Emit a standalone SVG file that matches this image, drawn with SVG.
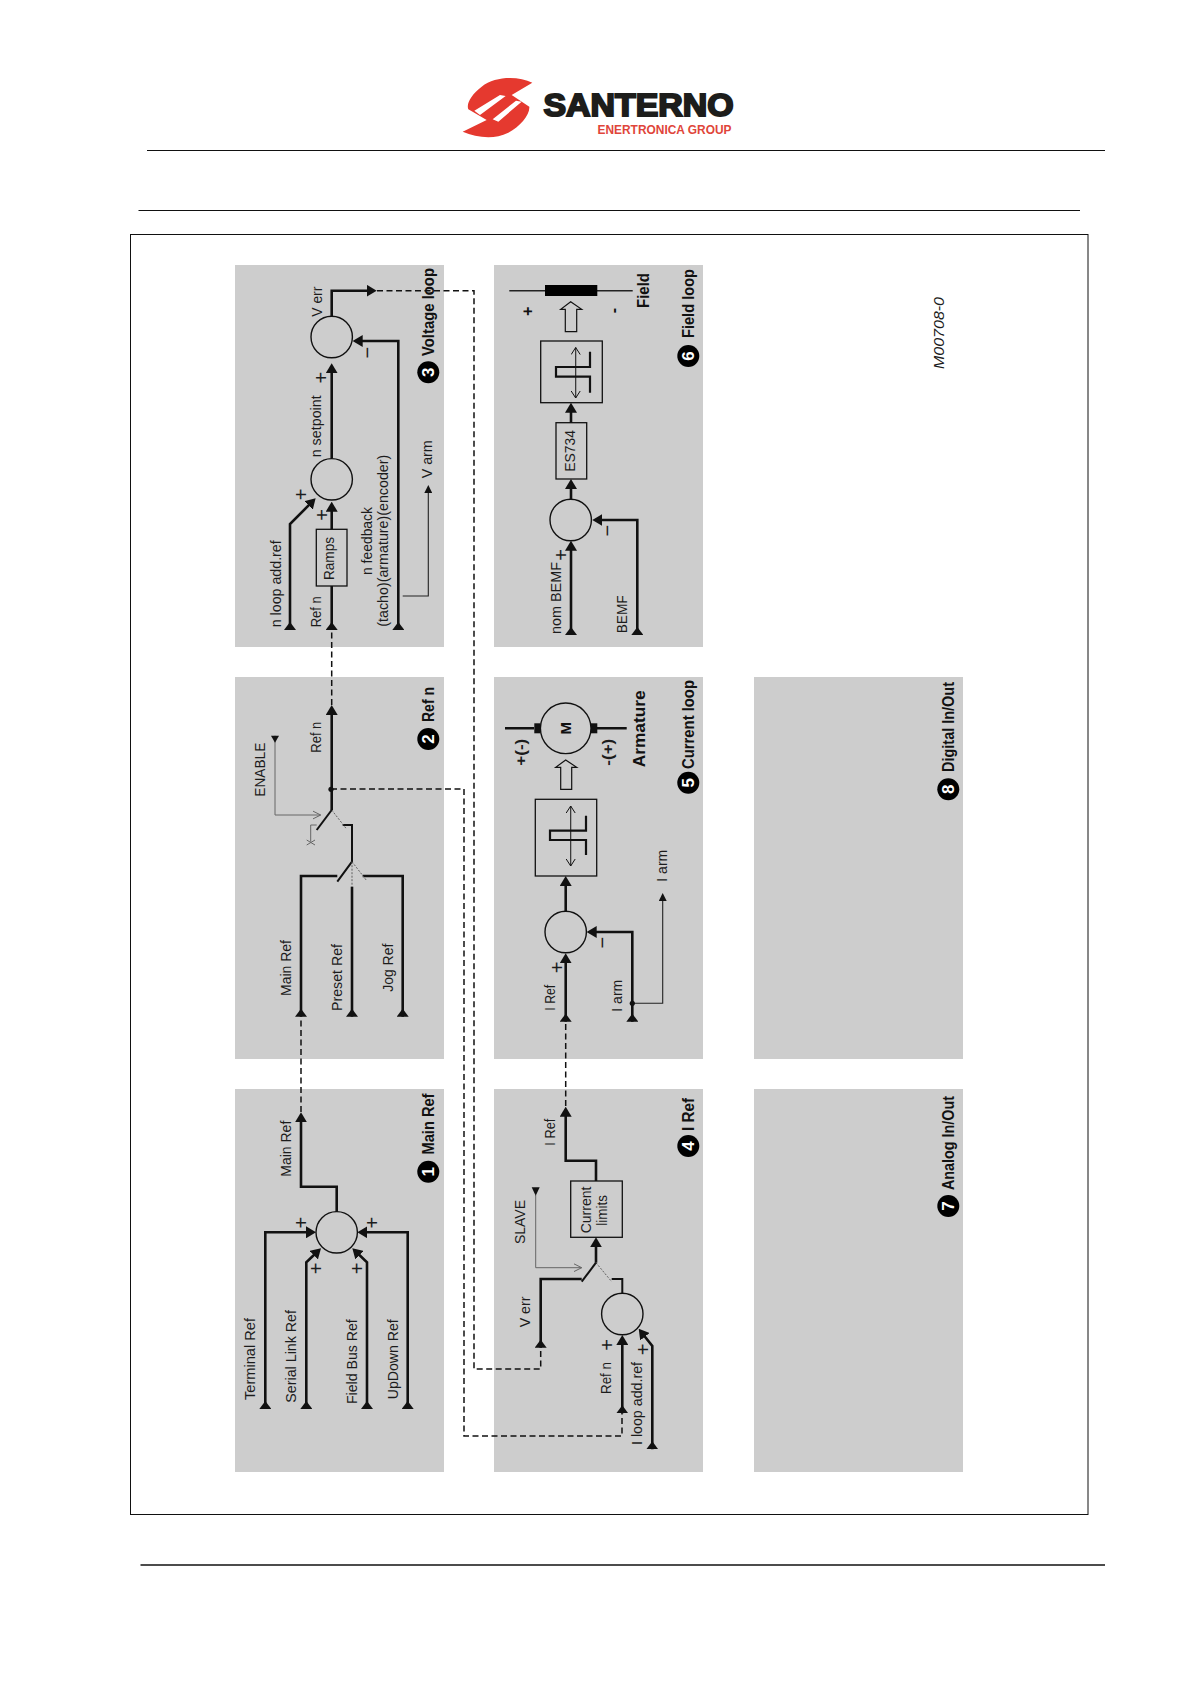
<svg xmlns="http://www.w3.org/2000/svg" width="1191" height="1684" viewBox="0 0 1191 1684">
<style>
text{font-family:"Liberation Sans",Arial,sans-serif;fill:#1c1c1c}
.l{font-size:14px}
.t{font-size:17px;font-weight:bold;fill:#111}
.n{font-size:17px;font-weight:bold;fill:#fff;text-anchor:middle}
.s{font-size:20px;text-anchor:middle}
.p{fill:#cdcdcd}
.sum{fill:none;stroke:#111;stroke-width:1.4}
.box{fill:none;stroke:#111;stroke-width:1.3}
.c{fill:none;stroke:#111;stroke-width:2.6}
.thin{fill:none;stroke:#222;stroke-width:1.1}
.gr{fill:none;stroke:#666;stroke-width:1}
.dot{fill:none;stroke:#555;stroke-width:.9;stroke-dasharray:2 1.5}
.d{fill:none;stroke:#111;stroke-width:1.5;stroke-dasharray:6 3.5}
.st{fill:none;stroke:#111;stroke-width:2.2}
.hol{fill:none;stroke:#111;stroke-width:1.2}
.rule{stroke:#111;stroke-width:1}
</style>
<defs>
<marker id="ae" viewBox="0 0 10 12" refX="6" refY="6" markerWidth="10" markerHeight="12" markerUnits="userSpaceOnUse" orient="auto"><path d="M0,0L10,6L0,12z" fill="#111"/></marker>
<marker id="as" viewBox="0 0 8 12" refX="0" refY="6" markerWidth="8" markerHeight="12" markerUnits="userSpaceOnUse" orient="auto"><path d="M0,0L8,6L0,12z" fill="#111"/></marker>
<marker id="te" viewBox="0 0 8 8" refX="5" refY="4" markerWidth="8" markerHeight="8" markerUnits="userSpaceOnUse" orient="auto"><path d="M0,0L8,4L0,8z" fill="#111"/></marker>
<marker id="to" viewBox="0 0 9 10" refX="8" refY="5" markerWidth="9" markerHeight="10" markerUnits="userSpaceOnUse" orient="auto"><path d="M0,1L8,5L0,9" fill="none" stroke="#666" stroke-width="1"/></marker>
<marker id="da" viewBox="0 0 8 10" refX="7" refY="5" markerWidth="8" markerHeight="10" markerUnits="userSpaceOnUse" orient="auto"><path d="M0,0.5L7,5L0,9.5" fill="none" stroke="#111" stroke-width="1"/></marker>
<marker id="das" viewBox="0 0 8 10" refX="1" refY="5" markerWidth="8" markerHeight="10" markerUnits="userSpaceOnUse" orient="auto"><path d="M8,0.5L1,5L8,9.5" fill="none" stroke="#111" stroke-width="1"/></marker>
</defs>

<g id="logo">
<g transform="translate(440 60) scale(.3333)">
<path d="M277,68C235,48 165,48 125,80C95,103 78,130 85,148L140,180L68,215C110,232 160,240 205,218C240,200 270,165 268,140L215,105Z" fill="#e5392f"/>
<path d="M103,152L180,105L197,108L120,165Z M158,178L228,122L245,125L175,185Z" fill="#fff"/>
</g>
<text x="543.5" y="116" font-size="32" font-weight="bold" textLength="190" lengthAdjust="spacingAndGlyphs" style="fill:#1d1d1b;stroke:#1d1d1b;stroke-width:2">SANTERNO</text>
<text x="597.5" y="134" font-size="13" font-weight="bold" textLength="134" lengthAdjust="spacingAndGlyphs" style="fill:#e0453a">ENERTRONICA GROUP</text>
</g>

<g id="page-rules">
<line class="rule" x1="147" y1="150.5" x2="1105" y2="150.5"/>
<line class="rule" x1="138.5" y1="210.5" x2="1080" y2="210.5"/>
<line class="rule" x1="140.5" y1="1565" x2="1105" y2="1565" style="stroke-width:1.6"/>
<rect x="130.5" y="234.5" width="957.5" height="1280" fill="none" stroke="#111" stroke-width="1"/>
<text transform="translate(944 369) rotate(-90)" class="l" font-style="italic" textLength="72" lengthAdjust="spacingAndGlyphs">M00708-0</text>
</g>

<g id="panel-1">
<rect class="p" x="235" y="1089" width="209" height="383"/>
<circle class="sum" cx="336.7" cy="1232.3" r="20.7"/>
<text class="s" transform="translate(308 1222.7) rotate(-90)">+</text>
<text class="s" transform="translate(323 1268.3) rotate(-90)">+</text>
<text class="s" transform="translate(364 1268.3) rotate(-90)">+</text>
<text class="s" transform="translate(379.3 1222.7) rotate(-90)">+</text>
<text class="l" transform="translate(290.7 1176.7) rotate(-90)" textLength="56" lengthAdjust="spacingAndGlyphs">Main Ref</text>
<text class="l" transform="translate(255 1400) rotate(-90)" textLength="82" lengthAdjust="spacingAndGlyphs">Terminal Ref</text>
<text class="l" transform="translate(296 1402.7) rotate(-90)" textLength="92.7" lengthAdjust="spacingAndGlyphs">Serial Link Ref</text>
<text class="l" transform="translate(357.3 1404) rotate(-90)" textLength="84.7" lengthAdjust="spacingAndGlyphs">Field Bus Ref</text>
<text class="l" transform="translate(397.7 1399.3) rotate(-90)" textLength="80" lengthAdjust="spacingAndGlyphs">UpDown Ref</text>
<circle cx="428.3" cy="1171.7" r="11"/>
<text class="n" transform="translate(434.3 1171.7) rotate(-90)">1</text>
<text class="t" transform="translate(434.3 1154.5) rotate(-90)" textLength="61" lengthAdjust="spacingAndGlyphs">Main Ref</text>
</g>

<g id="panel-2">
<rect class="p" x="235" y="677" width="209" height="382"/>
<text class="l" transform="translate(321 752.7) rotate(-90)" textLength="31" lengthAdjust="spacingAndGlyphs">Ref n</text>
<text class="l" transform="translate(265 796.7) rotate(-90)" textLength="54" lengthAdjust="spacingAndGlyphs">ENABLE</text>
<text class="l" transform="translate(290.7 996) rotate(-90)" textLength="56" lengthAdjust="spacingAndGlyphs">Main Ref</text>
<text class="l" transform="translate(341.7 1011) rotate(-90)" textLength="67" lengthAdjust="spacingAndGlyphs">Preset Ref</text>
<text class="l" transform="translate(392.7 991.7) rotate(-90)" textLength="48" lengthAdjust="spacingAndGlyphs">Jog Ref</text>
<circle cx="428.3" cy="739" r="11"/>
<text class="n" transform="translate(434.3 739) rotate(-90)">2</text>
<text class="t" transform="translate(434.3 722) rotate(-90)" textLength="35" lengthAdjust="spacingAndGlyphs">Ref n</text>
</g>

<g id="panel-3">
<rect class="p" x="235" y="265" width="209" height="382"/>
<circle class="sum" cx="331.7" cy="479.3" r="20.7"/>
<circle class="sum" cx="331.7" cy="337" r="20.7"/>
<rect class="box" x="316.3" y="529.3" width="30.7" height="56.7"/>
<text class="s" transform="translate(328.3 377.7) rotate(-90)">+</text>
<text class="s" transform="translate(328.7 515) rotate(-90)">+</text>
<text class="s" transform="translate(308 494.3) rotate(-90)">+</text>
<text class="s" transform="translate(374 352.7) rotate(-90)">−</text>
<text class="l" transform="translate(321.7 316.7) rotate(-90)" textLength="30" lengthAdjust="spacingAndGlyphs">V err</text>
<text class="l" transform="translate(321 457.3) rotate(-90)" textLength="62" lengthAdjust="spacingAndGlyphs">n setpoint</text>
<text class="l" transform="translate(281 627.3) rotate(-90)" textLength="87" lengthAdjust="spacingAndGlyphs">n loop add.ref</text>
<text class="l" transform="translate(321 627.3) rotate(-90)" textLength="31" lengthAdjust="spacingAndGlyphs">Ref n</text>
<text class="l" transform="translate(334.3 580) rotate(-90)" textLength="43" lengthAdjust="spacingAndGlyphs">Ramps</text>
<text class="l" transform="translate(372 575) rotate(-90)" textLength="68" lengthAdjust="spacingAndGlyphs">n feedback</text>
<text class="l" transform="translate(388 626.7) rotate(-90)" textLength="172" lengthAdjust="spacingAndGlyphs">(tacho)(armature)(encoder)</text>
<text class="l" transform="translate(432.3 478.3) rotate(-90)" textLength="38" lengthAdjust="spacingAndGlyphs">V arm</text>
<circle cx="428.3" cy="372.3" r="11"/>
<text class="n" transform="translate(434.3 372.3) rotate(-90)">3</text>
<text class="t" transform="translate(434.3 356) rotate(-90)" textLength="88" lengthAdjust="spacingAndGlyphs">Voltage loop</text>
</g>

<g id="panel-4">
<rect class="p" x="494" y="1089" width="209" height="383"/>
<circle class="sum" cx="622.3" cy="1314" r="20.7"/>
<rect class="box" x="570.7" y="1181" width="51.6" height="56.3"/>
<text class="s" transform="translate(614.3 1345) rotate(-90)">+</text>
<text class="s" transform="translate(650.3 1349.3) rotate(-90)">+</text>
<text class="l" transform="translate(555 1145.7) rotate(-90)" textLength="27" lengthAdjust="spacingAndGlyphs">I Ref</text>
<text class="l" transform="translate(525 1244) rotate(-90)" textLength="44" lengthAdjust="spacingAndGlyphs">SLAVE</text>
<text class="l" transform="translate(530 1327.3) rotate(-90)" textLength="30.7" lengthAdjust="spacingAndGlyphs">V err</text>
<text class="l" transform="translate(590.7 1233.3) rotate(-90)" textLength="46.7" lengthAdjust="spacingAndGlyphs">Current</text>
<text class="l" transform="translate(607.3 1225.7) rotate(-90)" textLength="30.7" lengthAdjust="spacingAndGlyphs">limits</text>
<text class="l" transform="translate(611 1394) rotate(-90)" textLength="32" lengthAdjust="spacingAndGlyphs">Ref n</text>
<text class="l" transform="translate(641.7 1445) rotate(-90)" textLength="83" lengthAdjust="spacingAndGlyphs">I loop add.ref</text>
<circle cx="688.3" cy="1146" r="11"/>
<text class="n" transform="translate(694.3 1146) rotate(-90)">4</text>
<text class="t" transform="translate(694.3 1131) rotate(-90)" textLength="33" lengthAdjust="spacingAndGlyphs">I Ref</text>
</g>

<g id="panel-5">
<rect class="p" x="494" y="677" width="209" height="382"/>
<circle class="sum" cx="565.7" cy="932" r="20.7"/>
<rect class="box" x="535.3" y="799.3" width="61.4" height="76.7"/>
<path class="thin" d="M570.7,806V866" marker-start="url(#das)" marker-end="url(#da)"/>
<path class="st" d="M586,815.7V830.7H550V840H586V855"/>
<polygon class="hol" points="565.7,760 555.7,767.3 560.7,767.3 560.7,789.3 571.7,789.3 571.7,767.3 576.7,767.3"/>
<circle class="sum" cx="565.7" cy="728.3" r="25.3"/>
<path class="c" d="M505,728.3H534M597,728.3H626.7"/>
<rect x="534.3" y="723.3" width="6" height="10" fill="#111"/>
<rect x="591" y="723.3" width="6.3" height="10" fill="#111"/>
<text transform="translate(571 728.3) rotate(-90)" text-anchor="middle" font-size="15" font-weight="bold" style="fill:#111">M</text>
<text transform="translate(526 765.7) rotate(-90)" font-size="14" font-weight="bold" textLength="27" lengthAdjust="spacingAndGlyphs">+(-)</text>
<text transform="translate(613.3 765.7) rotate(-90)" font-size="14" font-weight="bold" textLength="27" lengthAdjust="spacingAndGlyphs">-(+)</text>
<text class="t" transform="translate(645 767.3) rotate(-90)" textLength="77" lengthAdjust="spacingAndGlyphs">Armature</text>
<text class="s" transform="translate(564.3 967.3) rotate(-90)">+</text>
<text class="s" transform="translate(608.7 942.7) rotate(-90)">−</text>
<text class="l" transform="translate(555 1010.7) rotate(-90)" textLength="26" lengthAdjust="spacingAndGlyphs">I Ref</text>
<text class="l" transform="translate(621.7 1011.7) rotate(-90)" textLength="32" lengthAdjust="spacingAndGlyphs">I arm</text>
<text class="l" transform="translate(667.3 881.7) rotate(-90)" textLength="32" lengthAdjust="spacingAndGlyphs">I arm</text>
<circle cx="688.3" cy="782.7" r="11"/>
<text class="n" transform="translate(694.3 782.7) rotate(-90)">5</text>
<text class="t" transform="translate(694.3 769) rotate(-90)" textLength="89" lengthAdjust="spacingAndGlyphs">Current loop</text>
</g>

<g id="panel-6">
<rect class="p" x="494" y="265" width="209" height="382"/>
<circle class="sum" cx="570.7" cy="520" r="20.7"/>
<rect class="box" x="556" y="422.7" width="30.7" height="56.3"/>
<rect class="box" x="540.7" y="341" width="61.6" height="61.7"/>
<path class="thin" d="M575.7,347.5V398" marker-start="url(#das)" marker-end="url(#da)"/>
<path class="st" d="M590,351.7V367H556V376.7H590V392.7"/>
<polygon class="hol" points="570.7,301.7 560.7,309.3 565.3,309.3 565.3,331.7 576.7,331.7 576.7,309.3 581.7,309.3"/>
<path d="M509.3,290.7H632.7" fill="none" stroke="#222" stroke-width="1.4"/>
<rect x="545" y="285" width="52.3" height="11" fill="#000"/>
<text transform="translate(532.5 311.3) rotate(-90)" text-anchor="middle" font-size="16" font-weight="bold" style="fill:#111">+</text>
<text transform="translate(619 310.7) rotate(-90)" text-anchor="middle" font-size="16" font-weight="bold" style="fill:#111">-</text>
<text class="s" transform="translate(568 555) rotate(-90)">+</text>
<text class="s" transform="translate(613.7 530.7) rotate(-90)">−</text>
<text class="t" transform="translate(649.3 308) rotate(-90)" textLength="35" lengthAdjust="spacingAndGlyphs">Field</text>
<text class="l" transform="translate(575 471.7) rotate(-90)" textLength="41.7" lengthAdjust="spacingAndGlyphs">ES734</text>
<text class="l" transform="translate(561 634) rotate(-90)" textLength="72" lengthAdjust="spacingAndGlyphs">nom BEMF</text>
<text class="l" transform="translate(627 633.3) rotate(-90)" textLength="38" lengthAdjust="spacingAndGlyphs">BEMF</text>
<circle cx="688.3" cy="356" r="11"/>
<text class="n" transform="translate(694.3 356) rotate(-90)">6</text>
<text class="t" transform="translate(694.3 338) rotate(-90)" textLength="69" lengthAdjust="spacingAndGlyphs">Field loop</text>
</g>

<g id="panel-7">
<rect class="p" x="754" y="1089" width="209" height="383"/>
<circle cx="948.3" cy="1206" r="11"/>
<text class="n" transform="translate(954.3 1206) rotate(-90)">7</text>
<text class="t" transform="translate(954.3 1190) rotate(-90)" textLength="94" lengthAdjust="spacingAndGlyphs">Analog In/Out</text>
</g>

<g id="panel-8">
<rect class="p" x="754" y="677" width="209" height="382"/>
<circle cx="948.3" cy="789.3" r="11"/>
<text class="n" transform="translate(954.3 789.3) rotate(-90)">8</text>
<text class="t" transform="translate(954.3 772) rotate(-90)" textLength="90" lengthAdjust="spacingAndGlyphs">Digital In/Out</text>
</g>

<g id="connectors">
<path class="d" d="M301,1112V1017"/>
<path class="d" d="M331,789H464V1436H622V1413"/>
<path class="d" d="M331.7,705V630"/>
<path class="d" d="M377,290.7H474V1369H540.7V1348"/>
<path class="d" d="M565.7,1106V1022"/>

<path class="c" d="M265.3,1409V1232.3H312" marker-start="url(#as)" marker-end="url(#ae)"/>
<path class="c" d="M306.3,1409V1262.3L318.1,1251" marker-start="url(#as)" marker-end="url(#ae)"/>
<path class="c" d="M367,1409V1262.3L355.2,1251" marker-start="url(#as)" marker-end="url(#ae)"/>
<path class="c" d="M407.7,1409V1232.3H361.3" marker-start="url(#as)" marker-end="url(#ae)"/>
<path class="c" d="M336.7,1211.7V1186.7H301V1116.3" marker-end="url(#ae)"/>

<path class="c" d="M301,1016.7V876H337.3" marker-start="url(#as)"/>
<path class="c" d="M352,1016.7V886.7" marker-start="url(#as)"/>
<path class="c" d="M402.7,1016.7V876H362.7" marker-start="url(#as)"/>
<path class="c" style="stroke-width:2" d="M337.3,881.7L352,861.7V825H342.7"/>
<path class="dot" d="M352,861.7V886.7M352,861.7L366.7,880.7M331.7,810L346,828.3"/>
<path class="c" style="stroke-width:2" d="M316.7,830L331.7,810"/>
<path class="c" d="M331.7,810V709" marker-end="url(#ae)"/>
<circle cx="331" cy="789.3" r="2.6" fill="#111"/>
<path class="gr" d="M275,735.7V815H320.7" marker-end="url(#to)"/>
<path d="M271,735.7L279,735.7L275,742.7Z" fill="#111"/>
<path class="gr" d="M316.7,825H310.7V841.7M306.7,840L315,845M306.7,845L315,840"/>

<path class="c" d="M290,630V524L312.8,501.2" marker-start="url(#as)" marker-end="url(#ae)"/>
<path class="c" d="M331.7,630V586" marker-start="url(#as)"/>
<path class="c" d="M331.7,529.3V505.7" marker-end="url(#ae)"/>
<path class="c" d="M331.7,458.3V367.3" marker-end="url(#ae)"/>
<path class="c" d="M331.7,316.3V290.7H372.7" marker-end="url(#ae)"/>
<path class="c" d="M398.3,630V341H356.7" marker-start="url(#as)" marker-end="url(#ae)"/>
<path class="thin" d="M402.7,596H428.3V488" marker-end="url(#te)"/>

<path class="c" d="M540.7,1347.7V1279H581.7" marker-start="url(#as)"/>
<path class="c" d="M622.3,1413.3V1339" marker-start="url(#as)" marker-end="url(#ae)"/>
<path class="c" d="M652.3,1449.3V1346L641.2,1332" marker-start="url(#as)" marker-end="url(#ae)"/>
<path class="c" style="stroke-width:2" d="M622.3,1293.3V1279H611.7"/>
<path class="dot" d="M596,1262.7L611.7,1281.7"/>
<path class="c" style="stroke-width:2" d="M581.7,1281.7L596,1262.7"/>
<path class="c" d="M596,1262.7V1241.3" marker-end="url(#ae)"/>
<path class="c" d="M596,1181V1160.7H565.7V1110.7" marker-end="url(#ae)"/>
<path class="gr" d="M535.7,1195V1267.7H581.7" marker-end="url(#to)"/>
<path d="M531.7,1187.3H539.7L535.7,1195.7Z" fill="#111"/>

<path class="c" d="M565.7,1021.7V957.3" marker-start="url(#as)" marker-end="url(#ae)"/>
<path class="c" d="M632.3,1021.7V932H590.7" marker-start="url(#as)" marker-end="url(#ae)"/>
<path class="c" d="M565.7,911.7V880" marker-end="url(#ae)"/>
<path class="thin" d="M632.3,1003.3H662.7V896" marker-end="url(#te)"/>
<circle cx="632.3" cy="1003.3" r="2.6" fill="#111"/>

<path class="c" d="M571,635V544.7" marker-start="url(#as)" marker-end="url(#ae)"/>
<path class="c" d="M637.3,635V520H596.3" marker-start="url(#as)" marker-end="url(#ae)"/>
<path class="c" d="M571,499.3V483" marker-end="url(#ae)"/>
<path class="c" d="M571,422.7V406.7" marker-end="url(#ae)"/>
</g>
</svg>
